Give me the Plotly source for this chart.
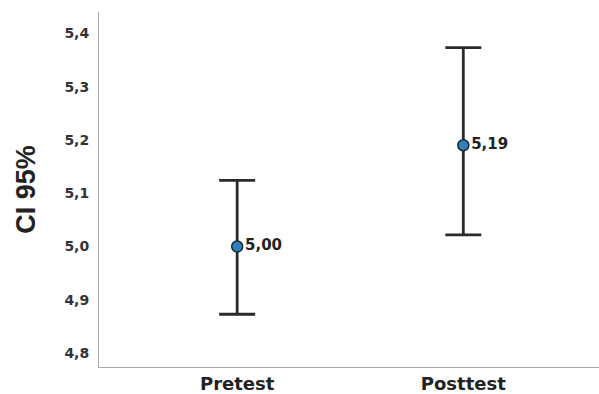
import plotly.graph_objects as go

categories = ["Pretest", "Posttest"]
means = [5.00, 5.19]
upper = [5.124, 5.373]
lower = [4.873, 5.022]
y_ticks = [4.8, 4.9, 5.0, 5.1, 5.2, 5.3, 5.4]

x_pos = list(range(len(categories)))
err_plus = [u - m for u, m in zip(upper, means)]
err_minus = [m - l for m, l in zip(means, lower)]
labels = [f"<b>{m:.2f}</b>".replace(".", ",") for m in means]

fig = go.Figure()
fig.add_trace(go.Scatter(
    x=x_pos, y=means, mode="markers+text",
    text=labels, textposition="middle right",
    textfont=dict(family="DejaVu Sans", size=15, color="#222"),
    marker=dict(size=11, color="#2f7fb8", line=dict(color="#1a2a3a", width=1.5)),
    error_y=dict(type="data", symmetric=False, array=err_plus, arrayminus=err_minus,
                 color="#2a2a2a", thickness=2.8, width=18),
    showlegend=False, cliponaxis=False, hoverinfo="skip",
))

fig.update_layout(
    width=599, height=394,
    margin=dict(l=99, r=0, t=12, b=27, autoexpand=False),
    paper_bgcolor="white", plot_bgcolor="white",
    separators=",.",
    font=dict(family="Arial", color="#222"),
)
fig.update_xaxes(
    range=[-0.611, 1.60], tickvals=x_pos, ticktext=[f"<b>{c}</b>" for c in categories],
    tickfont=dict(family="DejaVu Sans", size=18, color="#222"), showgrid=False, zeroline=False,
    showline=True, linecolor="#aaa", linewidth=1, ticks="", automargin=False,
)
fig.update_yaxes(
    range=[4.774, 5.44], tickvals=y_ticks,
    ticktext=[f"<b>{v:.1f}</b>".replace(".", ",") for v in y_ticks],
    tickfont=dict(family="DejaVu Sans", size=14, color="#333"), showgrid=False, zeroline=False,
    showline=True, linecolor="#aaa", linewidth=1, ticks="", automargin=False,
    ticklabelstandoff=6,
    title=dict(text="<b>CI 95%</b>", font=dict(family="Arial", size=27, color="#222"), standoff=20),
)

fig.write_html("out.html", post_script="document.body.style.margin='0';",
               config={"displayModeBar": False})
